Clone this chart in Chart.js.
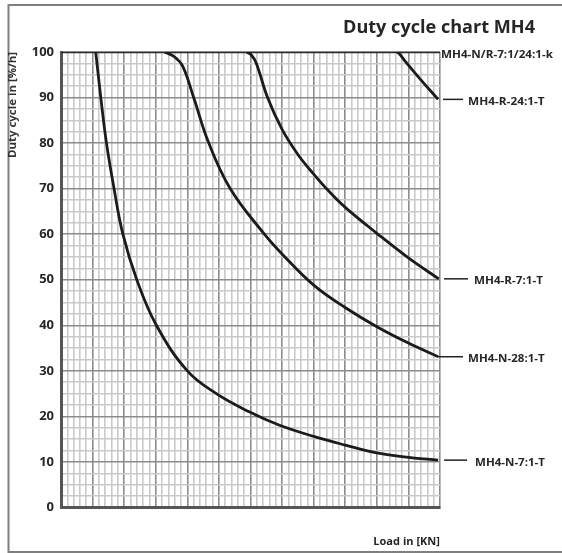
<!DOCTYPE html>
<html>
<head>
<meta charset="utf-8">
<script src="https://cdn.jsdelivr.net/npm/chart.js@4.4.1/dist/chart.umd.min.js"></script>
<style>
  html, body { margin: 0; padding: 0; background: #ffffff; }
  canvas { display: block; }
</style>
</head>
<body>
<canvas id="c" width="562" height="553"></canvas>
<script>
// ---------- data ----------
const chartTitle = 'Duty cycle chart MH4';
const yAxisTitle = 'Duty cycle in [%/h]';
const xAxisTitle = 'Load in [KN]';
const yTickValues = [0, 10, 20, 30, 40, 50, 60, 70, 80, 90, 100];
const seriesNames = ['MH4-N-7:1-T', 'MH4-N-28:1-T', 'MH4-R-7:1-T', 'MH4-R-24:1-T', 'MH4-N/R-7:1/24:1-k'];

// load axis in small grid units (60 units, 12 major divisions, no labels shown)
const loadN7  = [5.5, 6.3, 7.2, 8.4, 9.8, 12.0, 15.1, 20.0, 24.6, 29.8, 34.5, 40.0, 45.0, 50.0, 55.0, 59.7];
const dutyN7  = [100, 90, 80, 70, 60, 50, 40, 30, 25.0, 21.0, 18.1, 15.6, 13.7, 12.0, 11.0, 10.4];

const loadN28 = [16.4, 18.0, 19.3, 21.0, 23.4, 26.8, 32.2, 35.1, 40.1, 45.1, 50.0, 55.0, 59.7];
const dutyN28 = [100, 98.9, 96.8, 90, 80, 70, 60, 55.5, 48.7, 43.8, 39.7, 36.1, 33.1];

const loadR7  = [29.4, 30.1, 30.9, 32.7, 35.0, 37.5, 40.0, 42.5, 45.0, 50.0, 55.0, 59.8];
const dutyR7  = [100, 99.4, 97.6, 90, 83.0, 77.5, 73.2, 69.3, 65.9, 60.2, 54.8, 50.2];

const loadR24 = [53.2, 53.7, 54.4, 56.9, 59.7];
const dutyR24 = [100, 99.4, 98.1, 94.0, 89.6];

const loadK   = [0, 60];
const dutyK   = [100, 100];

// ---------- helpers ----------
const toPoints = (xs, ys) => xs.map((x, i) => ({ x: x, y: ys[i] }));
const FONT = '"Open Sans", "DejaVu Sans", sans-serif';

function drawFit(ctx, text, x, baseline, size, weight, width, color) {
  ctx.save();
  ctx.font = weight + ' ' + size + 'px ' + FONT;
  const m = ctx.measureText(text).width;
  ctx.translate(x, baseline);
  ctx.scale(width / m, 1);
  ctx.textAlign = 'left';
  ctx.textBaseline = 'alphabetic';
  ctx.fillStyle = color;
  ctx.fillText(text, 0, 0);
  ctx.restore();
}

// label layout (positions relative to the picture)
const labelLayout = [
  { lead: [444, 467], tx: 475, w: 70 },
  { lead: [438, 463], tx: 468, w: 76.7 },
  { lead: [444, 468], tx: 474, w: 69 },
  { lead: [443, 463], tx: 468, w: 76.7 },
  { lead: null,       tx: 441, w: 112 }
];
const seriesEnds = [dutyN7, dutyN28, dutyR7, dutyR24, dutyK].map(a => a[a.length - 1]);

const decorPlugin = {
  id: 'decor',
  beforeDraw(chart) {
    const ctx = chart.ctx;
    ctx.save();
    ctx.fillStyle = '#ffffff';
    ctx.fillRect(0, 0, chart.width, chart.height);
    ctx.strokeStyle = '#7f7f7f';
    ctx.lineWidth = 2;
    ctx.strokeRect(8.5, 5, 570, 547);
    ctx.restore();
  },
  afterDraw(chart) {
    const ctx = chart.ctx;
    const ys = chart.scales.y;
    drawFit(ctx, chartTitle, 343, 32.5, 18.5, 'bold', 192, '#262626');
    ctx.save();
    ctx.translate(15.5, 158);
    ctx.rotate(-Math.PI / 2);
    drawFit(ctx, yAxisTitle, 0, 0, 10, 'bold', 106, '#333333');
    ctx.restore();
    drawFit(ctx, xAxisTitle, 373.3, 544.7, 11, 'bold', 66.7, '#262626');
    seriesNames.forEach((name, i) => {
      const L = labelLayout[i];
      const yp = ys.getPixelForValue(seriesEnds[i]);
      if (L.lead) {
        ctx.save();
        ctx.strokeStyle = '#222222';
        ctx.lineWidth = 1.5;
        ctx.beginPath();
        ctx.moveTo(L.lead[0], yp);
        ctx.lineTo(L.lead[1], yp);
        ctx.stroke();
        ctx.restore();
      }
      drawFit(ctx, name, L.tx, yp + 5.5, 10.3, 'bold', L.w, '#262626');
    });
  }
};

const curveStyle = {
  borderColor: '#1b1b1b',
  borderWidth: 2.8,
  pointRadius: 0,
  fill: false,
  tension: 0.4
};

new Chart(document.getElementById('c'), {
  type: 'line',
  data: {
    datasets: [
      Object.assign({ label: seriesNames[0], data: toPoints(loadN7, dutyN7) }, curveStyle),
      Object.assign({ label: seriesNames[1], data: toPoints(loadN28, dutyN28) }, curveStyle),
      Object.assign({ label: seriesNames[2], data: toPoints(loadR7, dutyR7) }, curveStyle),
      Object.assign({ label: seriesNames[3], data: toPoints(loadR24, dutyR24) }, curveStyle),
      { label: seriesNames[4], data: toPoints(loadK, dutyK), borderColor: '#2a2a2a', borderWidth: 2.6, pointRadius: 0, fill: false }
    ]
  },
  options: {
    responsive: false,
    devicePixelRatio: 1,
    animation: false,
    layout: { padding: { left: 0, top: 52, right: 122, bottom: 45.5 } },
    plugins: { legend: { display: false }, tooltip: { enabled: false }, title: { display: false } },
    scales: {
      x: {
        type: 'linear',
        min: 0,
        max: 60,
        ticks: { display: false, stepSize: 1, autoSkip: false, maxTicksLimit: 200 },
        grid: {
          drawTicks: false,
          lineWidth: 1.6,
          color: (c) => (Math.round(c.tick.value) % 5 === 0 ? '#8c8c8c' : '#c9c9c9')
        },
        border: { display: true, color: '#555555', width: 3 },
        afterFit: (s) => { s.height = 0; }
      },
      y: {
        type: 'linear',
        min: 0,
        max: 100,
        afterBuildTicks: (s) => {
          const t = [];
          for (let v = 0; v <= 100; v += 2.5) t.push({ value: v });
          s.ticks = t;
        },
        ticks: {
          autoSkip: false,
          padding: 7,
          color: '#262626',
          font: { family: FONT, size: 13, weight: 'bold' },
          callback: (v) => (yTickValues.includes(v) ? String(v) : '')
        },
        grid: {
          drawTicks: false,
          lineWidth: 1.6,
          color: (c) => (c.tick.value % 10 === 0 ? '#8c8c8c' : '#c9c9c9')
        },
        border: { display: true, color: '#555555', width: 3 },
        afterFit: (s) => { s.width = 61; }
      }
    }
  },
  plugins: [decorPlugin]
});
</script>
</body>
</html>
